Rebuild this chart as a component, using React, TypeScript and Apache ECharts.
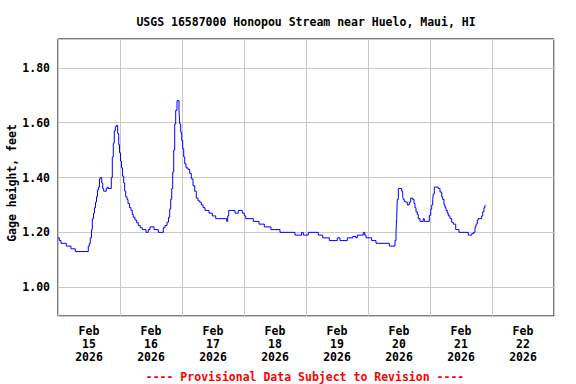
import React, { useEffect, useRef } from "react";
import * as echarts from "echarts";

// Hours since Feb 15 2026 00:00 at which the gage height changes
const hours = [
  0.0, 0.5, 1.16, 3.21, 5.03, 6.7, 11.73, 12.12, 12.5, 12.97, 13.28, 13.74, 14.13, 14.52, 14.9,
  15.29, 15.68, 16.06, 16.37, 16.92, 17.3, 17.69, 18.7, 19.08, 19.47, 20.63, 21.02, 21.41, 21.79,
  22.18, 22.57, 23.11, 23.5, 23.81, 24.19, 24.58, 24.97, 25.43, 25.82, 26.21, 26.71, 27.1, 27.68,
  28.26, 28.76, 29.15, 29.81, 30.46, 31.08, 31.86, 32.63, 34.06, 34.95, 35.61, 37.16, 38.83, 40.76,
  41.42, 42.19, 42.77, 43.24, 43.63, 44.01, 44.4, 44.79, 45.17, 45.56, 46.06, 46.84, 47.11, 47.5,
  47.88, 48.27, 48.66, 49.05, 49.55, 50.32, 50.98, 51.6, 52.26, 52.92, 53.54, 54.19, 54.85, 55.47,
  56.13, 56.9, 58.45, 59.73, 61.05, 65.3, 65.69, 66.08, 68.52, 69.79, 71.34, 72.12, 72.66, 75.6,
  77.81, 79.86, 82.45, 85.94, 91.74, 94.26, 94.95, 96.89, 100.76, 102.46, 105.02, 108.12, 109.16,
  111.99, 114.08, 115.35, 115.86, 118.18, 118.72, 119.23, 121.43, 123.1, 128.25, 130.45, 130.84,
  131.11, 131.34, 131.73, 133.05, 133.44, 133.67, 134.05, 134.59, 135.21, 135.99, 136.53, 137.3,
  137.81, 138.19, 138.58, 139.08, 139.47, 140.13, 141.41, 141.79, 143.73, 144.28, 144.66, 145.05,
  145.28, 145.66, 147.21, 147.87, 148.53, 148.92, 149.42, 149.81, 150.19, 150.7, 151.08, 151.74,
  152.4, 153.02, 153.95, 155.23, 158.83, 160.15, 160.77, 161.42, 161.81, 162.32, 162.7, 164.01,
  164.4, 164.9, 165.29,
];

// Gage height, feet (value from the matching hour onward)
const gageHeight = [
  1.18, 1.17, 1.16, 1.15, 1.14, 1.13, 1.15, 1.16, 1.18, 1.21, 1.25, 1.27, 1.29, 1.31, 1.33,
  1.355, 1.365, 1.395, 1.4, 1.38, 1.36, 1.35, 1.36, 1.365, 1.36, 1.4, 1.475, 1.525, 1.57,
  1.585, 1.59, 1.56, 1.52, 1.49, 1.46, 1.435, 1.405, 1.38, 1.35, 1.33, 1.32, 1.305, 1.29,
  1.28, 1.265, 1.255, 1.245, 1.235, 1.225, 1.217, 1.21, 1.2, 1.21, 1.22, 1.21, 1.2, 1.217,
  1.225, 1.237, 1.255, 1.285, 1.32, 1.36, 1.42, 1.5, 1.595, 1.645, 1.68, 1.645, 1.595, 1.565,
  1.535, 1.505, 1.475, 1.45, 1.435, 1.43, 1.415, 1.395, 1.37, 1.35, 1.325, 1.315, 1.31, 1.3,
  1.29, 1.28, 1.27, 1.26, 1.25, 1.24, 1.26, 1.28, 1.27, 1.28, 1.27, 1.26, 1.25, 1.24,
  1.23, 1.22, 1.21, 1.2, 1.19, 1.2, 1.19, 1.2, 1.19, 1.18, 1.17, 1.18, 1.17,
  1.18, 1.185, 1.18, 1.19, 1.2, 1.19, 1.18, 1.17, 1.16, 1.15, 1.17, 1.2,
  1.25, 1.32, 1.36, 1.35, 1.33, 1.32, 1.313, 1.31, 1.3, 1.31, 1.325, 1.32,
  1.305, 1.29, 1.275, 1.265, 1.25, 1.24, 1.25, 1.24, 1.262, 1.285, 1.3, 1.32,
  1.34, 1.365, 1.36, 1.347, 1.33, 1.32, 1.3, 1.29, 1.28, 1.27, 1.26, 1.25,
  1.237, 1.23, 1.21, 1.2, 1.19, 1.195, 1.2, 1.22, 1.23, 1.245, 1.25, 1.26,
  1.275, 1.29, 1.3,
];

const tickMonth = "Feb";
const tickDays = ["15", "16", "17", "18", "19", "20", "21", "22"];
const tickYear = "2026";

const titleText = "USGS 16587000 Honopou Stream near Huelo, Maui, HI";
const yAxisTitle = "Gage height, feet";
const footerText = "---- Provisional Data Subject to Revision ----";

const FONT = "DejaVu Sans Mono";

export default function App() {
  const ref = useRef<HTMLDivElement>(null);

  useEffect(() => {
    if (!ref.current) return;
    const chart = echarts.init(ref.current, null, { renderer: "svg" });
    const data = hours.map((h, i) => [h, gageHeight[i]]);
    const labelStyle = {
      fontFamily: FONT,
      fontWeight: "bold" as const,
      fontSize: 11.5,
      color: "#000",
    };
    chart.setOption({
      animation: false,
      backgroundColor: "#fff",
      grid: {
        left: 58,
        top: 39,
        right: 22,
        bottom: 68,
        show: true,
        borderColor: "#000",
        borderWidth: 1,
        backgroundColor: "#fff",
      },
      xAxis: [
        {
          type: "value",
          min: 0,
          max: 192,
          interval: 24,
          position: "bottom",
          axisLine: { show: false },
          axisTick: { show: false },
          axisLabel: { show: false },
          splitLine: { show: true, lineStyle: { color: "#c8c8c8", width: 1 } },
        },
        {
          type: "value",
          min: 0,
          max: 192,
          interval: 12,
          position: "bottom",
          axisLine: { show: false },
          axisTick: { show: false },
          splitLine: { show: false },
          axisLabel: {
            ...labelStyle,
            margin: 8,
            lineHeight: 13.3,
            align: "center",
            formatter: (v: number) => {
              if (v % 24 !== 12) return "";
              const i = (v - 12) / 24;
              return `${tickMonth}\n${tickDays[i]}\n${tickYear}`;
            },
          },
        },
      ],
      yAxis: {
        type: "value",
        min: 0.895,
        max: 1.905,
        splitNumber: 5,
        minInterval: 0.2,
        maxInterval: 0.2,
        axisLine: { show: false },
        axisTick: { show: false },
        splitLine: { show: true, lineStyle: { color: "#c8c8c8", width: 1 } },
        axisLabel: {
          ...labelStyle,
          margin: 8,
          showMinLabel: false,
          showMaxLabel: false,
          formatter: (v: number) => v.toFixed(2),
        },
      },
      graphic: [
        {
          type: "text",
          x: 306,
          y: 22,
          style: {
            text: titleText,
            align: "center",
            verticalAlign: "middle",
            font: `bold 11.5px "${FONT}"`,
            fill: "#000",
          },
        },
        {
          type: "text",
          x: 11.5,
          y: 183,
          rotation: Math.PI / 2,
          style: {
            text: yAxisTitle,
            align: "center",
            verticalAlign: "middle",
            font: `bold 11.5px "${FONT}"`,
            fill: "#000",
          },
        },
        {
          type: "text",
          x: 305,
          y: 376.5,
          style: {
            text: footerText,
            align: "center",
            verticalAlign: "middle",
            font: `bold 11.5px "${FONT}"`,
            fill: "#ff0000",
          },
        },
      ],
      series: [
        {
          type: "line",
          xAxisIndex: 0,
          data,
          step: "end",
          showSymbol: false,
          symbol: "none",
          lineStyle: { color: "#0000ff", width: 1 },
        },
      ],
    });
    return () => chart.dispose();
  }, []);

  return (
    <div
      ref={ref}
      style={{ position: "fixed", left: 0, top: 0, width: 576, height: 384 }}
    />
  );
}
